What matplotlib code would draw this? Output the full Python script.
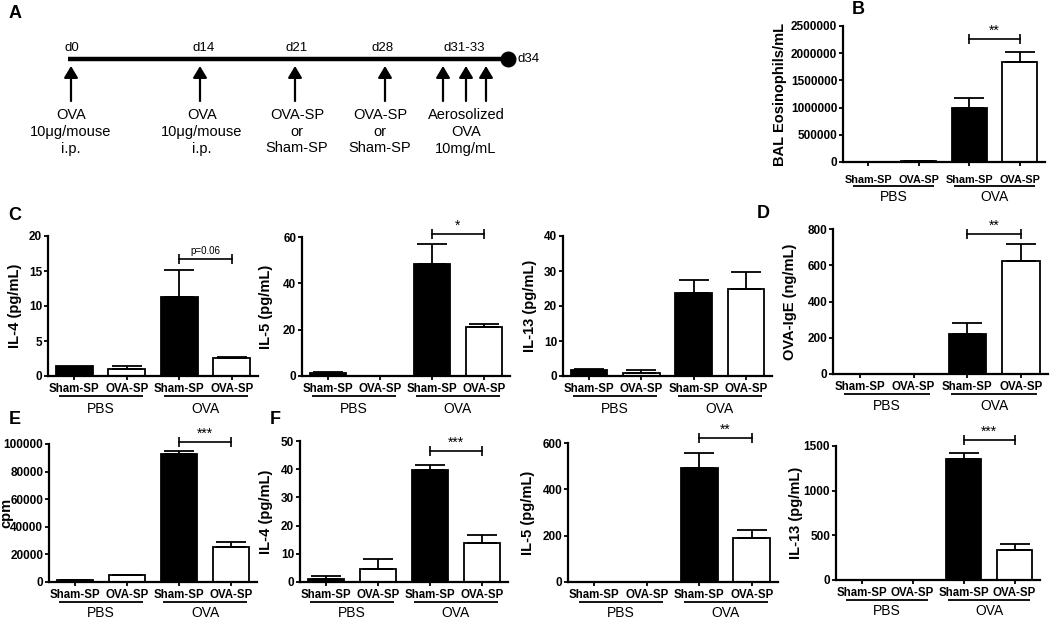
import matplotlib
matplotlib.use('Agg')
import matplotlib.pyplot as plt
from matplotlib.transforms import offset_copy

plt.rcParams['font.family'] = ['Liberation Sans', 'DejaVu Sans']

W, H = 1050, 624

# ---- values ----
bar_labels = ['Sham-SP', 'OVA-SP', 'Sham-SP', 'OVA-SP']
group_labels = ['PBS', 'OVA']

bal_eos = [5000, 20000, 1000000, 1840000]
bal_eos_err = [0, 3000, 180000, 180000]

c_il4 = [1.45, 1.0, 11.3, 2.6]
c_il4_err = [0.0, 0.5, 3.8, 0.1]
c_il5 = [1.2, 0.0, 48.5, 21.0]
c_il5_err = [0.6, 0.0, 8.5, 1.6]
c_il13 = [1.6, 0.8, 23.6, 24.9]
c_il13_err = [0.5, 0.9, 3.8, 4.7]

ova_ige = [0, 0, 218, 623]
ova_ige_err = [0, 0, 62, 95]

cpm = [1500, 5000, 93000, 25500]
cpm_err = [300, 200, 1700, 3800]

f_il4 = [1.2, 4.7, 39.7, 13.9]
f_il4_err = [1.1, 3.6, 1.8, 2.6]
f_il5 = [0, 0, 491, 190]
f_il5_err = [0, 0, 65, 35]
f_il13 = [0, 0, 1350, 338]
f_il13_err = [0, 0, 75, 68]

# timeline of the protocol (panel A)
day_labels = ['d0', 'd14', 'd21', 'd28', 'd31-33']
treatments = ['OVA\n10\u03bcg/mouse\ni.p.', 'OVA\n10\u03bcg/mouse\ni.p.',
              'OVA-SP\nor\nSham-SP', 'OVA-SP\nor\nSham-SP',
              'Aerosolized\nOVA\n10mg/mL']
end_label = 'd34'

# layout of panel A in pixels
day_x = [72, 204, 297, 383, 464]
arrow_x = [71, 200, 295, 385, 443, 466, 486]
treat_x = [71, 202, 297, 380, 466]


def box(l, t, r, b):
    return [l / W, 1 - b / H, (r - l) / W, (b - t) / H]


def bar_panel(fig, rect, vals, errs, yticks, ylabel, ylab_x, sig=None, sig_y=None,
              pad=1.5, under=20, grp=32, xfs=8.3):
    ax = fig.add_axes(box(*rect))
    ax.set_facecolor('none')
    x = list(range(4))
    colors = ['black', 'white', 'black', 'white']
    ax.bar(x, vals, width=0.7, color=colors, edgecolor='black', linewidth=1.3, zorder=2)
    ex = [i for i in x if errs[i] > 0]
    ax.errorbar(ex, [vals[i] for i in ex], yerr=[[0] * len(ex), [errs[i] for i in ex]],
                fmt='none', ecolor='black', elinewidth=1.3, capsize=11, capthick=1.3, zorder=3)
    ax.set_xlim(-0.5, 3.5)
    ax.set_ylim(0, yticks[-1])
    for s in ['top', 'right']:
        ax.spines[s].set_visible(False)
    for s in ['left', 'bottom']:
        ax.spines[s].set_linewidth(1.6)
    ax.set_yticks(yticks)
    ax.set_yticklabels([str(t) for t in yticks], fontweight='bold', fontsize=8.5)
    ax.set_xticks(x)
    ax.set_xticklabels(bar_labels, fontweight='bold', fontsize=xfs)
    ax.tick_params(axis='both', direction='out', length=3.2, width=1.3)
    ax.tick_params(axis='x', pad=pad)
    ax.tick_params(axis='y', pad=1)
    ax.set_ylabel(ylabel, fontweight='bold', fontsize=10.5)
    ax.yaxis.set_label_coords((ylab_x - rect[0]) / (rect[2] - rect[0]), 0.5)

    # group underlines and labels below the axis
    tr_line = offset_copy(ax.get_xaxis_transform(), fig=fig, y=-under, units='dots')
    tr_text = offset_copy(ax.get_xaxis_transform(), fig=fig, y=-grp, units='dots')
    for g, (a, b) in enumerate([(0, 1), (2, 3)]):
        ax.plot([a - 0.3, b + 0.3], [0, 0], transform=tr_line, color='black', lw=1.3,
                clip_on=False, solid_capstyle='butt')
        ax.text((a + b) / 2, 0, group_labels[g], transform=tr_text, ha='center', va='center',
                fontsize=10)

    if sig is not None:
        ax.plot([2, 3], [sig_y, sig_y], color='black', lw=1.2, clip_on=False)
        ax.plot([2, 3], [sig_y, sig_y], ls='none', marker='|', ms=7, mew=1.2, color='black',
                clip_on=False)
        small = sig.startswith('p')
        ax.annotate(sig, (2.5, sig_y), xytext=(0, 2 if small else 1), textcoords='offset points',
                    ha='center', va='bottom', fontsize=7 if small else 10,
                    annotation_clip=False)
    return ax


fig = plt.figure(figsize=(W / 100, H / 100), dpi=100)

# pixel overlay for panel A and panel letters
ov = fig.add_axes([0, 0, 1, 1])
ov.set_xlim(0, W)
ov.set_ylim(H, 0)
ov.axis('off')

ov.plot([68, 508], [59, 59], color='black', lw=3.2, solid_capstyle='butt')
ov.plot([508], [59], 'o', ms=10.5, color='black')
ov.text(517, 59, end_label, ha='left', va='center', fontsize=9.5)
for lab, xp in zip(day_labels, day_x):
    ov.text(xp, 48, lab, ha='center', va='center', fontsize=9.5)
for xp in arrow_x:
    ov.annotate('', xy=(xp, 66), xytext=(xp, 101),
                arrowprops=dict(arrowstyle='-|>,head_length=0.5,head_width=0.3',
                                mutation_scale=14, lw=1.6, color='black',
                                shrinkA=0, shrinkB=0))
for lab, xp in zip(treatments, treat_x):
    ov.text(xp, 108, lab, ha='center', va='top', fontsize=10.5, linespacing=1.25)

for letter, (lx, ly) in zip('ABCDEF', [(15, 13), (858, 9), (15, 215), (763, 213), (15, 420), (275, 420)]):
    ov.text(lx, ly, letter, ha='center', va='center', fontsize=13, fontweight='bold')

bar_panel(fig, (843, 26, 1045, 162), bal_eos, bal_eos_err,
          [0, 500000, 1000000, 1500000, 2000000, 2500000], 'BAL Eosinophils/mL', 787,
          '**', 2260000, pad=6, under=24, grp=35, xfs=7.8)
bar_panel(fig, (48, 236, 258, 376), c_il4, c_il4_err, [0, 5, 10, 15, 20],
          'IL-4 (pg/mL)', 22, 'p=0.06', 16.7, pad=1.5, under=20, grp=33)
bar_panel(fig, (302, 237, 510, 376), c_il5, c_il5_err, [0, 20, 40, 60],
          'IL-5 (pg/mL)', 273, '*', 61.3, pad=1.5, under=20, grp=33)
bar_panel(fig, (563, 236, 772, 376), c_il13, c_il13_err, [0, 10, 20, 30, 40],
          'IL-13 (pg/mL)', 537, pad=1.5, under=20, grp=33)
bar_panel(fig, (833, 229, 1048, 374), ova_ige, ova_ige_err, [0, 200, 400, 600, 800],
          'OVA-IgE (ng/mL)', 797, '**', 772, pad=1.5, under=20, grp=32)
bar_panel(fig, (49, 444, 257, 582), cpm, cpm_err, [0, 20000, 40000, 60000, 80000, 100000],
          'cpm', 13, '***', 101400, pad=1.5, under=20, grp=31)
bar_panel(fig, (300, 441, 508, 582), f_il4, f_il4_err, [0, 10, 20, 30, 40, 50],
          'IL-4 (pg/mL)', 273, '***', 46.5, pad=1.5, under=20, grp=31)
bar_panel(fig, (568, 443, 778, 582), f_il5, f_il5_err, [0, 200, 400, 600],
          'IL-5 (pg/mL)', 535, '**', 622, pad=1.5, under=20, grp=31)
bar_panel(fig, (836, 446, 1040, 580), f_il13, f_il13_err, [0, 500, 1000, 1500],
          'IL-13 (pg/mL)', 803, '***', 1567, pad=1.5, under=20, grp=31)

fig.savefig('out.png', dpi=100)
